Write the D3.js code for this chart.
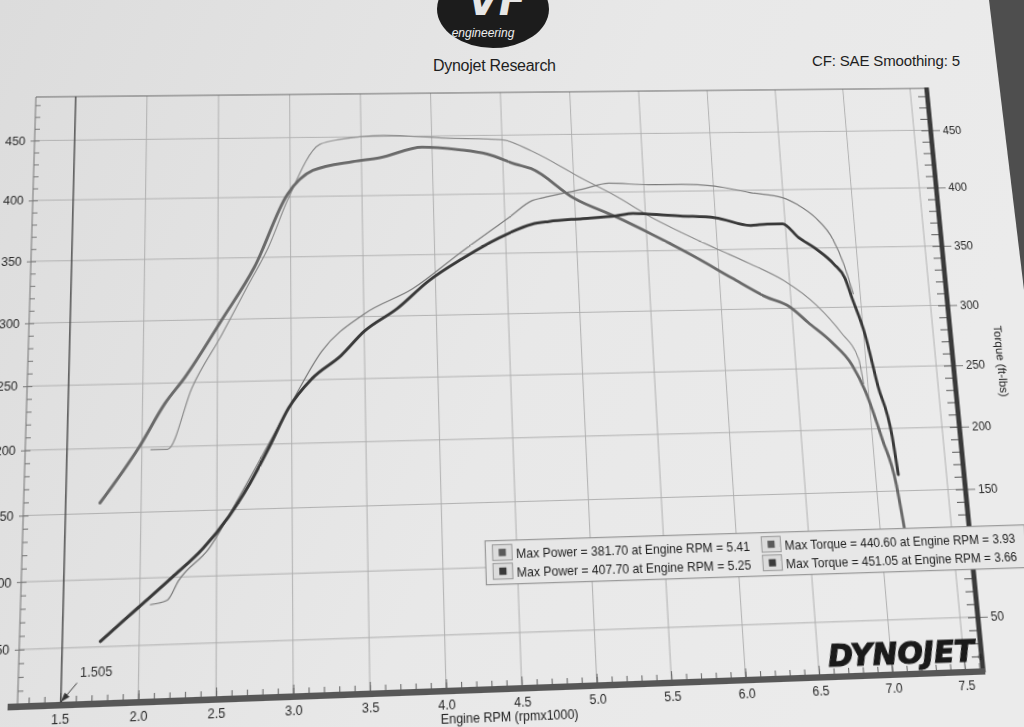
<!DOCTYPE html>
<html>
<head>
<meta charset="utf-8">
<script src="https://cdn.jsdelivr.net/npm/d3@7"></script>
<style>
  body { margin: 0; width: 1024px; height: 727px; overflow: hidden; background: #e4e4e4; font-family: "Liberation Sans", Arial, sans-serif; }
  svg { position: absolute; left: 0; top: 0; overflow: visible; }
  #chart { transform-origin: 0 0; }
</style>
</head>
<body>
<svg id="paper" width="1024" height="727"></svg>
<svg id="chart" width="1024" height="727"></svg>
<script>
// run 1 (thick lines)
const rpmPower1 = [1.75, 1.99, 2.21, 2.41, 2.58, 2.72, 2.85, 2.98, 3.14, 3.34, 3.5, 3.73, 3.95, 4.19, 4.44, 4.69, 4.81, 5.05, 5.29, 5.41, 5.52, 5.75, 6.0, 6.25, 6.37, 6.48, 6.59, 6.7, 6.83, 6.9, 6.94, 7.01, 7.07, 7.14, 7.16];
const powerA = [54, 78, 100, 121, 145, 170, 198, 228, 251, 269, 288, 306, 328, 346, 362, 374, 376, 378, 380, 381.7, 381, 379, 377, 370, 371, 371, 359, 350, 336, 324, 307, 277, 235, 194, 163];
const rpmTorque1 = [1.73, 1.98, 2.15, 2.28, 2.53, 2.75, 2.98, 3.16, 3.44, 3.63, 3.93, 4.19, 4.39, 4.59, 4.7, 5.0, 5.29, 5.52, 5.84, 6.09, 6.32, 6.49, 6.61, 6.77, 6.9, 6.98, 7.07, 7.14, 7.17];
const torqueA = [158, 200, 234, 254, 300, 342, 402, 422, 429, 432, 440.6, 438, 434, 425, 421, 395, 379, 365, 344, 326, 310, 301, 288, 271, 252, 230, 191, 155, 120];

// run 2 (thin lines)
const rpmPower2 = [2.07, 2.18, 2.25, 2.45, 2.65, 2.98, 3.21, 3.5, 3.84, 4.19, 4.53, 4.7, 4.77, 5.06, 5.25, 5.53, 5.77, 6.01, 6.26, 6.5, 6.6, 6.72, 6.84, 6.9, 6.95];
const powerB = [80, 83, 97, 121, 160, 228, 273, 302, 322, 352, 380, 394, 396, 403, 407.7, 406, 406, 404, 398, 393, 387, 376, 356, 336, 311];
const rpmTorque2 = [2.06, 2.17, 2.33, 2.53, 2.71, 2.85, 2.98, 3.21, 3.35, 3.66, 4.1, 4.5, 4.71, 5.06, 5.29, 5.53, 5.75, 5.99, 6.22, 6.46, 6.68, 6.84, 6.95, 6.97];
const torqueB = [198, 198, 246, 288, 328, 359, 397, 444, 448, 451.05, 448, 446, 436, 412, 397, 379, 365, 351, 338, 323, 302, 279, 257, 237];

const rpmTicks = [1.5, 2.0, 2.5, 3.0, 3.5, 4.0, 4.5, 5.0, 5.5, 6.0, 6.5, 7.0, 7.5];
const valueTicks = [50, 100, 150, 200, 250, 300, 350, 400, 450];
const legendLeft = ["Max Power = 381.70 at Engine RPM = 5.41", "Max Power = 407.70 at Engine RPM = 5.25"];
const legendRight = ["Max Torque = 440.60 at Engine RPM = 3.93", "Max Torque = 451.05 at Engine RPM = 3.66"];
const cursorRpm = 1.505;

// flat chart scales
const x = d3.scaleLinear().domain([1.23, 7.61]).range([29, 954]);
const y = d3.scaleLinear().domain([10, 487]).range([690, 92]);

// the sheet was photographed at an angle, so map the flat chart onto the photo
function solveHomography(src, dst) {
    const A = [], B = [];
    for (let i = 0; i < 4; i++) {
        const [px, py] = src[i], [u, v] = dst[i];
        A.push([px, py, 1, 0, 0, 0, -px * u, -py * u]); B.push(u);
        A.push([0, 0, 0, px, py, 1, -px * v, -py * v]); B.push(v);
    }
    for (let c = 0; c < 8; c++) {
        let p = c;
        for (let r = c + 1; r < 8; r++) if (Math.abs(A[r][c]) > Math.abs(A[p][c])) p = r;
        [A[c], A[p]] = [A[p], A[c]]; [B[c], B[p]] = [B[p], B[c]];
        for (let r = 0; r < 8; r++) {
            if (r === c) continue;
            const f = A[r][c] / A[c][c];
            for (let k = c; k < 8; k++) A[r][k] -= f * A[c][k];
            B[r] -= f * B[c];
        }
    }
    return B.map((b, i) => b / A[i][i]);
}
const flatCorners = [[x(1.5), y(487)], [x(7.5), y(487)], [x(7.5), y(10)], [x(1.5), y(10)]];
const photoCorners = [[75, 96.6], [910, 88.5], [965, 670], [60, 703]];
const Hm = solveHomography(flatCorners, photoCorners);
const Hi = solveHomography(photoCorners, flatCorners);
function unproject(u, v) {
    const w = Hi[6] * u + Hi[7] * v + 1;
    return [(Hi[0] * u + Hi[1] * v + Hi[2]) / w, (Hi[3] * u + Hi[4] * v + Hi[5]) / w];
}

// paper and header (not skewed)
const paper = d3.select('#paper');
const defs = paper.append('defs');
const grad = defs.append('linearGradient').attr('id', 'bg').attr('x1', 0).attr('x2', 1).attr('y1', 0).attr('y2', 0.3);
grad.append('stop').attr('offset', 0).attr('stop-color', '#dcdcdc');
grad.append('stop').attr('offset', 0.6).attr('stop-color', '#e8e8e8');
grad.append('stop').attr('offset', 1).attr('stop-color', '#ebebeb');
paper.append('rect').attr('width', 1024).attr('height', 727).attr('fill', 'url(#bg)');
paper.append('polygon').attr('points', '989,0 1024,0 1024,290').attr('fill', '#4e4e4e');

paper.append('ellipse').attr('cx', 493).attr('cy', 9).attr('rx', 56).attr('ry', 39).attr('fill', '#1c1c1c');
paper.append('text').attr('x', 497).attr('y', 15).attr('text-anchor', 'middle')
    .style('font-family', 'DejaVu Sans').style('font-weight', 'bold').style('font-style', 'italic')
    .style('font-size', '40px').attr('fill', '#e6e6e6').text('VF');
paper.append('text').attr('x', 483).attr('y', 37).attr('text-anchor', 'middle')
    .style('font-style', 'italic').style('font-size', '12px').attr('fill', '#eeeeee').text('engineering');
paper.append('text').attr('x', 433).attr('y', 71).attr('textLength', 123)
    .style('font-size', '16px').attr('fill', '#1e1e1e').text('Dynojet Research');
paper.append('text').attr('x', 812).attr('y', 66).attr('textLength', 148)
    .style('font-size', '15px').attr('fill', '#1e1e1e').text('CF: SAE Smoothing: 5');

// chart
const svg = d3.select('#chart')
    .style('transform', `matrix3d(${Hm[0]},${Hm[3]},0,${Hm[6]},${Hm[1]},${Hm[4]},0,${Hm[7]},0,0,1,0,${Hm[2]},${Hm[5]},0,1)`);
const g = svg.append('g');

const [x0, x1] = x.domain().map(x);
const [yb, yt] = y.domain().map(y);

// grid
g.append('g').selectAll('line').data(rpmTicks.slice(1)).enter().append('line')
    .attr('x1', d => x(d)).attr('x2', d => x(d)).attr('y1', yb).attr('y2', yt)
    .attr('stroke', '#ababab').attr('stroke-width', 0.9);
g.append('g').selectAll('line').data(valueTicks).enter().append('line')
    .attr('x1', x0).attr('x2', x1).attr('y1', d => y(d)).attr('y2', d => y(d))
    .attr('stroke', '#ababab').attr('stroke-width', 0.9);

// frame
g.append('line').attr('x1', x0).attr('x2', x1).attr('y1', yt).attr('y2', yt).attr('stroke', '#666').attr('stroke-width', 1.2);
g.append('line').attr('x1', x0).attr('x2', x0).attr('y1', yt).attr('y2', yb).attr('stroke', '#777').attr('stroke-width', 1);

const tickFont = sel => sel.selectAll('text').style('font-family', '"Liberation Sans", Arial, sans-serif').style('font-size', '12px').attr('fill', '#2a2a2a');
const minorValues = d3.range(10, 481, 10);
const minorRpm = d3.range(13, 77).map(d => d / 10);

// left axis
g.append('g').attr('transform', `translate(${x0},0)`)
    .call(d3.axisLeft(y).tickValues(minorValues).tickSize(-5).tickFormat(''))
    .call(a => a.select('.domain').remove()).selectAll('line').attr('stroke', '#777');
g.append('g').attr('transform', `translate(${x0},0)`)
    .call(d3.axisLeft(y).tickValues(valueTicks).tickSize(4).tickPadding(5))
    .call(a => a.select('.domain').remove())
    .call(tickFont).selectAll('line').attr('stroke', '#777');

// right axis
g.append('g').attr('transform', `translate(${x1},0)`)
    .call(d3.axisRight(y).tickValues(minorValues).tickSize(-8).tickFormat(''))
    .call(a => a.select('.domain').remove()).selectAll('line').attr('stroke', '#555');
g.append('g').attr('transform', `translate(${x1},0)`)
    .call(d3.axisRight(y).tickValues(valueTicks).tickSize(12).tickPadding(3))
    .call(a => a.select('.domain').remove())
    .call(tickFont).selectAll('line').attr('stroke', '#777');
g.append('line').attr('x1', x1 + 2).attr('x2', x1 + 2).attr('y1', yt - 1).attr('y2', yb + 3)
    .attr('stroke', '#3a3a3a').attr('stroke-width', 5);

// bottom axis
g.append('g').attr('transform', `translate(0,${yb})`)
    .call(d3.axisBottom(x).tickValues(minorRpm).tickSize(-6).tickFormat(''))
    .call(a => a.select('.domain').remove()).selectAll('line').attr('stroke', '#666');
g.append('g').attr('transform', `translate(0,${yb})`)
    .call(d3.axisBottom(x).tickValues(rpmTicks).tickSize(-9).tickPadding(10).tickFormat(d3.format('.1f')))
    .call(a => a.select('.domain').remove())
    .call(tickFont).selectAll('line').attr('stroke', '#666');
g.append('line').attr('x1', x0 - 9).attr('x2', x1 + 4).attr('y1', yb + 2).attr('y2', yb + 2)
    .attr('stroke', '#575757').attr('stroke-width', 6);

// cursor line
g.append('line').attr('x1', x(cursorRpm)).attr('x2', x(cursorRpm)).attr('y1', yt).attr('y2', yb)
    .attr('stroke', '#4a4a4a').attr('stroke-width', 1.4);

// curves
const series = [
    { rpm: rpmTorque2, val: torqueB, color: '#8c8c8c', width: 1.2 },
    { rpm: rpmPower2, val: powerB, color: '#7a7a7a', width: 1.2 },
    { rpm: rpmTorque1, val: torqueA, color: '#6a6a6a', width: 3 },
    { rpm: rpmPower1, val: powerA, color: '#393939', width: 3 }
];
series.forEach(s => {
    const line = d3.line().x((d, i) => x(s.rpm[i])).y(d => y(d)).curve(d3.curveMonotoneX);
    g.append('path').attr('d', line(s.val)).attr('fill', 'none')
        .attr('stroke', s.color).attr('stroke-width', s.width)
        .attr('stroke-linejoin', 'round').attr('stroke-linecap', 'round');
});

// cursor label
const [cx, cy] = unproject(80, 677);
g.append('text').attr('x', cx).attr('y', cy).style('font-size', '12px').attr('fill', '#333').text(cursorRpm.toFixed(3));
const [ax1, ay1] = unproject(77, 683);
const [ax2, ay2] = unproject(61, 702);
g.append('line').attr('x1', ax1).attr('y1', ay1).attr('x2', ax2).attr('y2', ay2).attr('stroke', '#444').attr('stroke-width', 1);
const ang = Math.atan2(ay2 - ay1, ax2 - ax1);
g.append('path')
    .attr('d', `M${ax2},${ay2} L${ax2 - 9 * Math.cos(ang - 0.35)},${ay2 - 9 * Math.sin(ang - 0.35)} L${ax2 - 9 * Math.cos(ang + 0.35)},${ay2 - 9 * Math.sin(ang + 0.35)} Z`)
    .attr('fill', '#333');

// legend
const [lx, ly] = unproject(485, 541);
const legend = g.append('g').attr('transform', `translate(${lx},${ly})`);
legend.append('rect').attr('width', 540).attr('height', 42).attr('fill', '#e7e7e7').attr('stroke', '#8a8a8a');
[legendLeft, legendRight].forEach((col, ci) => {
    col.forEach((label, ri) => {
        const row = legend.append('g').attr('transform', `translate(${7 + ci * 266},${4 + ri * 18})`);
        row.append('rect').attr('width', 19).attr('height', 15).attr('fill', '#dcdcdc').attr('stroke', '#999');
        row.append('rect').attr('x', 6).attr('y', 4).attr('width', 7).attr('height', 7).attr('fill', ri === 0 ? '#5a5a5a' : '#3a3a3a');
        row.append('text').attr('x', 23).attr('y', 13).style('font-size', '12px').attr('fill', '#1e1e1e').text(label);
    });
});

// axis titles
const [bx, by] = unproject(510, 721);
g.append('text').attr('x', bx).attr('y', by).attr('text-anchor', 'middle').style('font-size', '12px').attr('fill', '#222')
    .text('Engine RPM (rpmx1000)');
const [rx, ry] = unproject(997, 361);
g.append('text').attr('transform', `translate(${rx},${ry}) rotate(90)`).attr('text-anchor', 'middle')
    .style('font-size', '12px').attr('fill', '#222').text('Torque (ft-lbs)');

// dynojet mark
const [dx, dy] = unproject(829, 667);
g.append('text').attr('x', dx).attr('y', dy).attr('textLength', 146).attr('lengthAdjust', 'spacingAndGlyphs')
    .style('font-family', 'DejaVu Sans').style('font-weight', 'bold').style('font-style', 'italic')
    .style('font-size', '29px').attr('fill', '#1a1a1a').attr('stroke', '#1a1a1a').attr('stroke-width', 1.2)
    .text('DYNOJET');
g.append('text').attr('x', dx + 149).attr('y', dy - 1).style('font-size', '7px').attr('fill', '#1a1a1a').text('®');
</script>
</body>
</html>
